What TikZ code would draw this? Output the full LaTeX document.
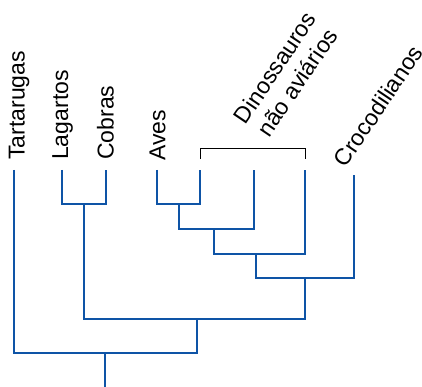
\documentclass[tikz,border=0pt]{standalone}
\usepackage{fontspec}
\setmainfont{Liberation Sans}
\usepackage{xcolor}
\usepackage{tikz}
\usetikzlibrary{positioning}

\definecolor{cladeblue}{RGB}{14,84,166}

\begin{document}
\begin{tikzpicture}[x=1pt, y=-1pt,
        clade/.style={draw=cladeblue, line width=2pt},
        taxon/.style={inner sep=0pt, font=\fontsize{23}{27}\selectfont},
        group/.style={draw=black, line width=0.7pt}]
        \useasboundingbox (0,0) rectangle (422,387);

        \coordinate (tart) at (14,170);
        \coordinate (lag) at (62,170);
        \coordinate (cob) at (106,170);
        \coordinate (aves) at (157,170);
        \coordinate (din1) at (200,170);
        \coordinate (din2) at (254,170);
        \coordinate (din3) at (305,170);
        \coordinate (croc) at (354,175);

        \coordinate (j1) at (84,204);
        \coordinate (j2) at (179,204);
        \coordinate (j3) at (214,229);
        \coordinate (j4) at (256,254);
        \coordinate (j5) at (305,278);
        \coordinate (j6) at (197,319);
        \coordinate (j7) at (105,353);
        \coordinate (root) at (105,387);

        \node[taxon, rotate=90, anchor=west] (tartL) at (19,160) {Tartarugas};
        \node[taxon, rotate=90, anchor=west] (lagL) at (62.5,160) {Lagartos};
        \node[taxon, rotate=90, anchor=west] (cobL) at (105.5,160) {Cobras};
        \node[taxon, rotate=90, anchor=west] (avesL) at (157.5,161) {Aves};
        \node[taxon, rotate=56, align=center] (dinL) at (286,75) {Dinossauros\\não aviários};
        \node[taxon, rotate=56] (crocL) at (378,106) {Crocodilianos};

        \coordinate (bl) at (200,159);
        \coordinate (br) at (305,159);
        \draw[group] (bl) -- ++(0,-11) -| (br);

        \draw[clade] (lag) |- (j1) -| (cob);
        \draw[clade] (aves) |- (j2) -| (din1);
        \draw[clade] (j2) |- (j3) -| (din2);
        \draw[clade] (j3) |- (j4) -| (din3);
        \draw[clade] (j4) |- (j5) -| (croc);
        \draw[clade] (j1) |- (j6) -| (j5);
        \draw[clade] (tart) |- (j7) -| (j6);
        \draw[clade] (j7) -- (root);
    \end{tikzpicture}
\end{document}
